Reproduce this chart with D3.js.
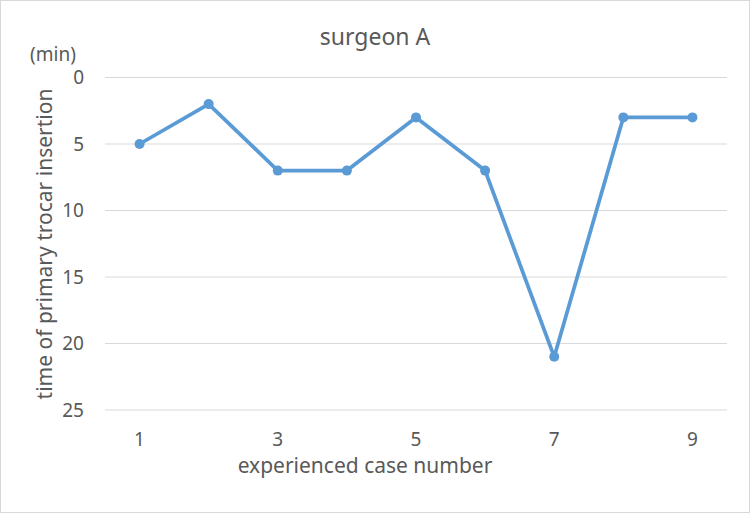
<!DOCTYPE html>
<html>
<head>
<meta charset="utf-8">
<script src="https://cdn.jsdelivr.net/npm/d3@7"></script>
<style>
  body { margin: 0; background: #fff; }
  text { font-family: "Noto Sans", "Open Sans", sans-serif; fill: #595959; }
</style>
</head>
<body>
<svg id="chart" width="750" height="513"></svg>
<script>
const cases = [1, 2, 3, 4, 5, 6, 7, 8, 9];
const times = [5, 2, 7, 7, 3, 7, 21, 3, 3];
const yTicks = [0, 5, 10, 15, 20, 25];
const xLabels = [1, 3, 5, 7, 9];

const svg = d3.select("#chart");
const margin = { left: 105, right: 23, top: 77.5, bottom: 103 };
const W = 750, H = 513;

svg.append("rect")
  .attr("x", 0.5).attr("y", 0.5)
  .attr("width", W - 1).attr("height", H - 1)
  .attr("fill", "#fff").attr("stroke", "#d9d9d9");

const x = d3.scaleBand().domain(cases)
  .range([margin.left, W - margin.right]);
const y = d3.scaleLinear().domain([0, 25])
  .range([margin.top, H - margin.bottom]);

// gridlines
svg.append("g").selectAll("line").data(yTicks).enter().append("line")
  .attr("x1", margin.left).attr("x2", W - margin.right)
  .attr("y1", d => y(d)).attr("y2", d => y(d))
  .attr("stroke", "#d9d9d9").attr("stroke-width", 1);

// y tick labels
svg.append("g").selectAll("text").data(yTicks).enter().append("text")
  .attr("x", 84).attr("y", d => y(d))
  .attr("dy", "0.35em")
  .attr("text-anchor", "end")
  .attr("font-size", 19)
  .text(d => d);

// x tick labels
svg.append("g").selectAll("text").data(xLabels).enter().append("text")
  .attr("x", d => x(d) + x.bandwidth() / 2).attr("y", 439)
  .attr("dy", "0.35em")
  .attr("text-anchor", "middle")
  .attr("font-size", 19)
  .text(d => d);

// line
const line = d3.line()
  .x((d, i) => x(cases[i]) + x.bandwidth() / 2)
  .y(d => y(d));

svg.append("path").datum(times)
  .attr("d", line)
  .attr("fill", "none")
  .attr("stroke", "#5b9bd5")
  .attr("stroke-width", 3.75)
  .attr("stroke-linejoin", "round");

svg.append("g").selectAll("circle").data(times).enter().append("circle")
  .attr("cx", (d, i) => x(cases[i]) + x.bandwidth() / 2)
  .attr("cy", d => y(d))
  .attr("r", 5)
  .attr("fill", "#5b9bd5");

// titles
svg.append("text")
  .attr("x", 375).attr("y", 37).attr("dy", "0.35em")
  .attr("text-anchor", "middle").attr("font-size", 23)
  .text("surgeon A");

svg.append("text")
  .attr("x", 53).attr("y", 54).attr("dy", "0.35em")
  .attr("text-anchor", "middle").attr("font-size", 19)
  .text("(min)");

svg.append("text")
  .attr("transform", "translate(45,244) rotate(-90)")
  .attr("dy", "0.35em")
  .attr("text-anchor", "middle").attr("font-size", 21)
  .text("time of primary trocar insertion");

svg.append("text")
  .attr("x", 365).attr("y", 466).attr("dy", "0.35em")
  .attr("text-anchor", "middle").attr("font-size", 21)
  .text("experienced case number");
</script>
</body>
</html>
